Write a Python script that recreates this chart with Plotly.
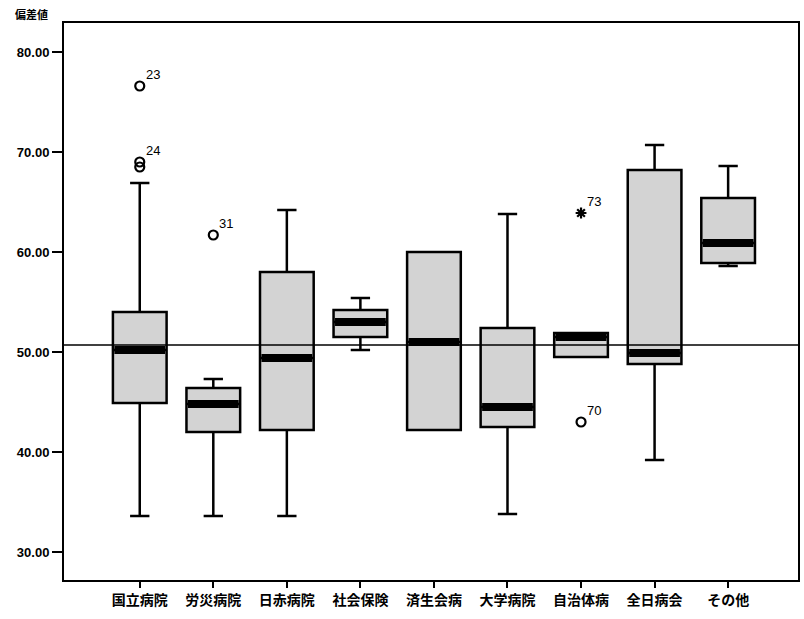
import plotly.graph_objects as go

# Hospital groups and their box-plot statistics (偏差値)
categories = ["国立病院", "労災病院", "日赤病院", "社会保険", "済生会病",
              "大学病院", "自治体病", "全日病会", "その他"]
upper_whisker = [66.9, 47.3, 64.2, 55.4, 60.0, 63.8, 51.9, 70.7, 68.6]
q3_values = [54.0, 46.4, 58.0, 54.2, 60.0, 52.4, 51.9, 68.2, 65.4]
medians = [50.2, 44.8, 49.4, 53.0, 51.0, 44.5, 51.5, 49.9, 60.9]
q1_values = [44.9, 42.0, 42.2, 51.5, 42.2, 42.5, 49.5, 48.8, 58.9]
lower_whisker = [33.6, 33.6, 33.6, 50.2, 42.2, 33.8, 49.5, 39.2, 58.6]

# Individual outlying cases: group index, value, case number, marker
outlier_group = [0, 0, 0, 1, 6, 6]
outlier_value = [76.6, 69.0, 68.5, 61.7, 63.9, 43.0]
outlier_case = ["23", "24", "", "31", "73", "70"]
outlier_symbol = ["circle-open", "circle-open", "circle-open", "circle-open", "asterisk-open", "circle-open"]

# Overall reference level
reference_level = 50.7

tick_values = [30, 40, 50, 60, 70, 80]

idx = list(range(len(categories)))
box_width = 0.73

fig = go.Figure()

fig.add_trace(go.Box(
    x=idx,
    q1=q1_values,
    median=medians,
    q3=q3_values,
    lowerfence=lower_whisker,
    upperfence=upper_whisker,
    width=box_width,
    whiskerwidth=0.36,
    fillcolor="#d3d3d3",
    line=dict(color="black", width=2.5),
    boxpoints=False,
    hoverinfo="skip",
    showlegend=False,
))

# Heavy median bars
mx, my = [], []
for i, m in zip(idx, medians):
    mx += [i - box_width / 2 + 0.02, i + box_width / 2 - 0.02, None]
    my += [m, m, None]
fig.add_trace(go.Scatter(
    x=mx, y=my, mode="lines",
    line=dict(color="black", width=8),
    hoverinfo="skip", showlegend=False,
))

# Outliers and extreme values
fig.add_trace(go.Scatter(
    x=outlier_group, y=outlier_value, mode="markers",
    marker=dict(symbol=outlier_symbol, size=9, color="black",
                line=dict(color="black", width=2.2)),
    hoverinfo="skip", showlegend=False,
))
for g, v, c in zip(outlier_group, outlier_value, outlier_case):
    if c:
        fig.add_annotation(x=g, y=v, text=c, showarrow=False,
                           xanchor="left", yanchor="bottom",
                           xshift=4, yshift=2,
                           font=dict(size=13, color="black",
                                     family="Liberation Sans, Arial, sans-serif"))

# Reference line across the plotting area
fig.add_shape(type="line", xref="paper", x0=0, x1=1,
              yref="y", y0=reference_level, y1=reference_level,
              line=dict(color="black", width=1.5), layer="above")

# Axis title in the upper-left corner
fig.add_annotation(xref="paper", yref="paper", x=-0.044, y=1.016,
                   text="<b>偏差値</b>", showarrow=False,
                   xanchor="center", yanchor="middle",
                   font=dict(size=11, color="black",
                             family="Noto Sans CJK JP, sans-serif"))

fig.update_layout(
    width=804, height=619,
    margin=dict(l=64, r=4, t=23, b=39),
    paper_bgcolor="white", plot_bgcolor="white",
    font=dict(family="Liberation Sans, Arial, sans-serif", color="black"),
)
fig.update_yaxes(
    range=[27.2, 82.9], tickvals=tick_values, tickformat=".2f",
    ticks="outside", ticklen=10, tickwidth=2, tickcolor="black",
    showline=True, linewidth=2, linecolor="black", mirror=True,
    showgrid=False, zeroline=False,
    tickfont=dict(size=13, weight="bold", color="black"),
)
fig.update_xaxes(
    range=[-1.03, 8.95], tickvals=idx, ticktext=categories,
    ticks="outside", ticklen=6, tickwidth=2, tickcolor="black",
    showline=True, linewidth=2, linecolor="black", mirror=True,
    showgrid=False, zeroline=False,
    tickfont=dict(size=14, weight="bold", color="black",
                  family="Noto Sans CJK JP, sans-serif"),
)

fig.write_html("out.html")
